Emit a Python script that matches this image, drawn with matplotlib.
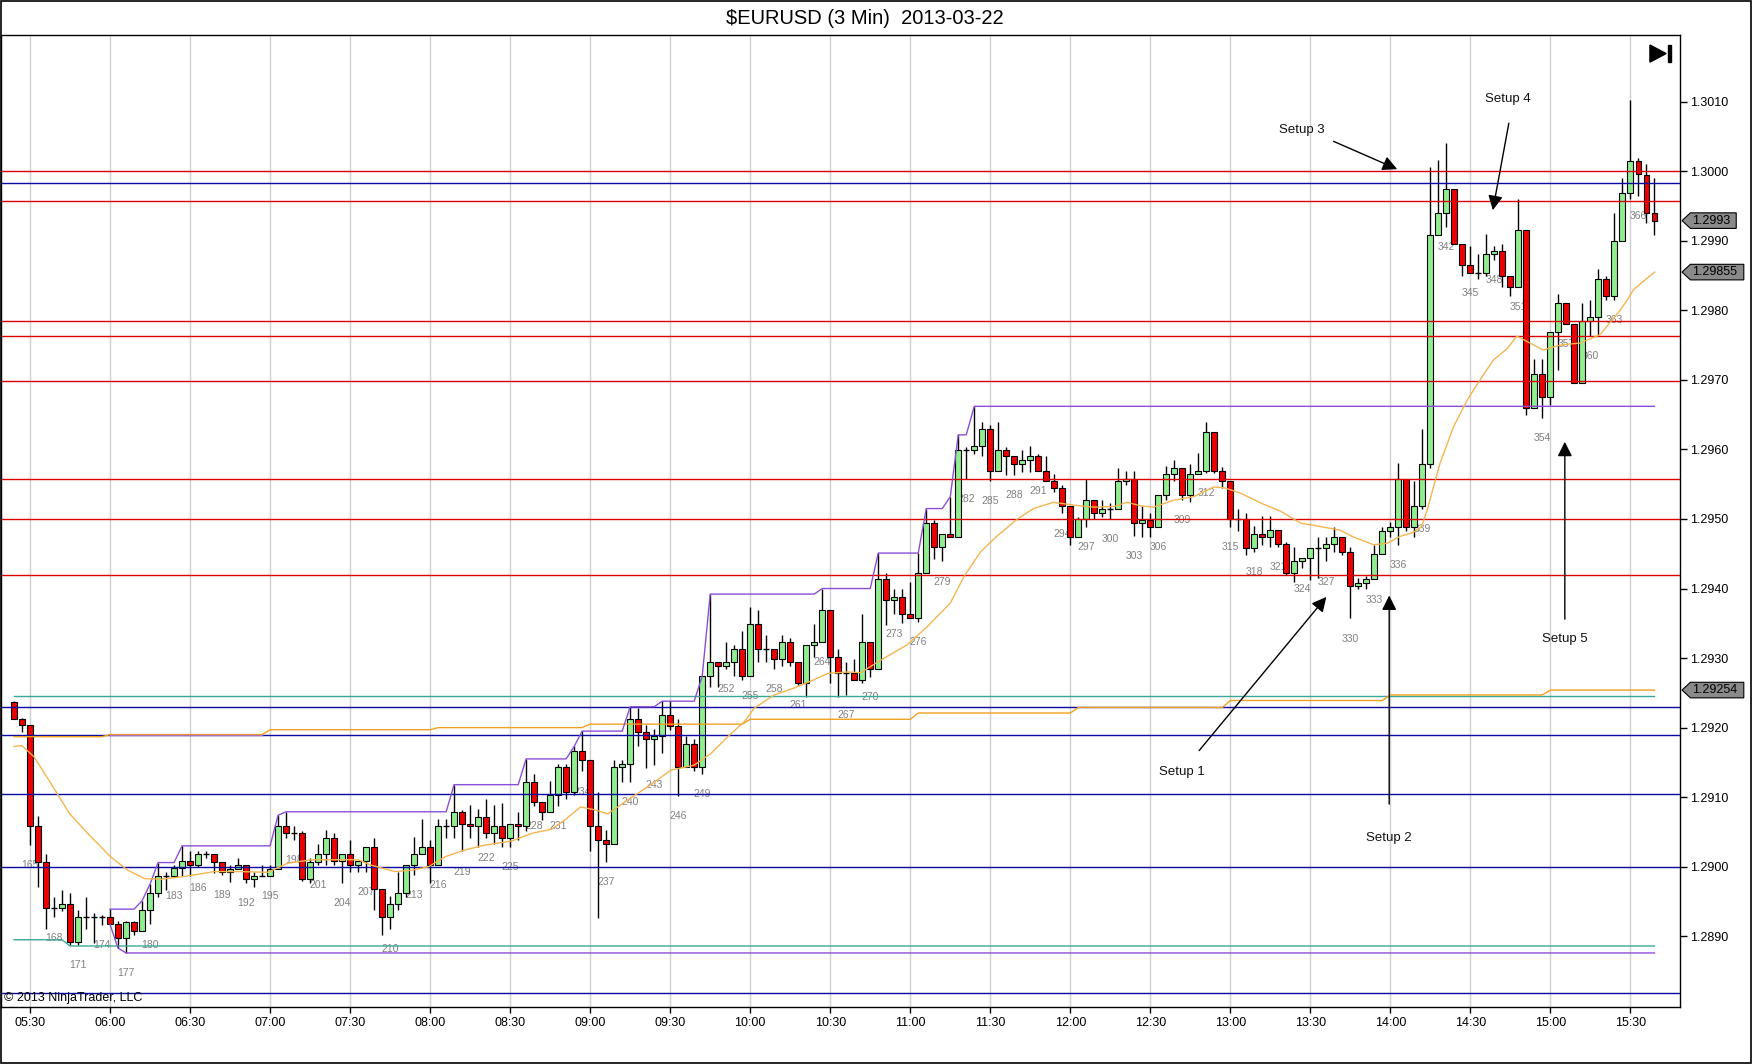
import numpy as np
import matplotlib
matplotlib.use("Agg")
import matplotlib.pyplot as plt
import matplotlib.transforms as mtransforms
from matplotlib.patches import Polygon, Rectangle

plt.rcParams['font.family'] = ['Liberation Sans', 'DejaVu Sans']

# 3 min bars, numbered as on the chart (163 .. 368)
first_bar = 163
opens = np.array([
    1.29237, 1.29213, 1.29204, 1.29058, 1.29007, 1.28941, 1.28941, 1.28947, 1.28892, 1.28927,  # 163
    1.28927, 1.28927, 1.28927, 1.28917, 1.28897, 1.28921, 1.28908, 1.28938, 1.28962, 1.28987,  # 173
    1.28987, 1.28998, 1.29008, 1.29002, 1.29018, 1.29018, 1.29007, 1.28992, 1.28997, 1.29002,  # 183
    1.28982, 1.28987, 1.28987, 1.28997, 1.29058, 1.29048, 1.29048, 1.28982, 1.29007, 1.29018,  # 193
    1.29042, 1.29008, 1.29018, 1.29002, 1.29008, 1.29028, 1.28968, 1.28927, 1.28947, 1.28962,  # 203
    1.29002, 1.29018, 1.29028, 1.29002, 1.29058, 1.29058, 1.29078, 1.29062, 1.29059, 1.29072,  # 213
    1.29048, 1.29059, 1.29042, 1.29062, 1.29059, 1.29122, 1.29093, 1.29078, 1.29103, 1.29143,  # 223
    1.29107, 1.29167, 1.29153, 1.29059, 1.29038, 1.29032, 1.29143, 1.29147, 1.29213, 1.29193,  # 233
    1.29183, 1.29188, 1.29218, 1.29203, 1.29143, 1.29177, 1.29143, 1.29274, 1.29294, 1.29289,  # 243
    1.29294, 1.29313, 1.29274, 1.29349, 1.29313, 1.29313, 1.29299, 1.29323, 1.29294, 1.29264,  # 253
    1.29319, 1.29323, 1.29369, 1.29302, 1.29278, 1.29278, 1.29269, 1.29323, 1.29284, 1.29413,  # 263
    1.29383, 1.29388, 1.29363, 1.29358, 1.29423, 1.29494, 1.29460, 1.29479, 1.29474, 1.29599,  # 273
    1.29599, 1.29605, 1.29629, 1.29569, 1.29599, 1.29590, 1.29579, 1.29585, 1.29590, 1.29569,  # 283
    1.29555, 1.29544, 1.29518, 1.29474, 1.29500, 1.29528, 1.29508, 1.29514, 1.29514, 1.29555,  # 293
    1.29558, 1.29494, 1.29499, 1.29489, 1.29534, 1.29565, 1.29574, 1.29534, 1.29565, 1.29569,  # 303
    1.29625, 1.29569, 1.29555, 1.29500, 1.29500, 1.29459, 1.29479, 1.29474, 1.29484, 1.29464,  # 313
    1.29423, 1.29439, 1.29444, 1.29459, 1.29459, 1.29464, 1.29474, 1.29453, 1.29403, 1.29408,  # 323
    1.29413, 1.29449, 1.29483, 1.29489, 1.29558, 1.29489, 1.29518, 1.29579, 1.29909, 1.29940,  # 333
    1.29975, 1.29895, 1.29865, 1.29854, 1.29854, 1.29881, 1.29885, 1.29850, 1.29834, 1.29915,  # 343
    1.29659, 1.29709, 1.29675, 1.29769, 1.29810, 1.29780, 1.29695, 1.29784, 1.29790, 1.29845,  # 353
    1.29820, 1.29900, 1.29969, 1.30015, 1.29995, 1.29940])                                    # 363
highs = np.array([
    1.29239, 1.29214, 1.29204, 1.29073, 1.29018, 1.28957, 1.28967, 1.28962, 1.28938, 1.28957,
    1.28933, 1.28931, 1.28939, 1.28922, 1.28922, 1.28922, 1.28951, 1.28975, 1.29006, 1.28993,
    1.29003, 1.29030, 1.29022, 1.29022, 1.29023, 1.29019, 1.29007, 1.29003, 1.29012, 1.29002,
    1.28993, 1.29002, 1.29003, 1.29074, 1.29079, 1.29058, 1.29052, 1.29012, 1.29033, 1.29053,
    1.29049, 1.29018, 1.29038, 1.29008, 1.29028, 1.29042, 1.28968, 1.28958, 1.28992, 1.29002,
    1.29043, 1.29069, 1.29038, 1.29069, 1.29069, 1.29118, 1.29082, 1.29089, 1.29083, 1.29097,
    1.29089, 1.29092, 1.29062, 1.29078, 1.29155, 1.29133, 1.29093, 1.29123, 1.29148, 1.29148,
    1.29173, 1.29195, 1.29153, 1.29107, 1.29053, 1.29153, 1.29153, 1.29230, 1.29228, 1.29204,
    1.29198, 1.29238, 1.29238, 1.29213, 1.29188, 1.29183, 1.29274, 1.29392, 1.29294, 1.29323,
    1.29319, 1.29339, 1.29374, 1.29369, 1.29333, 1.29313, 1.29333, 1.29329, 1.29294, 1.29319,
    1.29349, 1.29400, 1.29369, 1.29313, 1.29294, 1.29299, 1.29363, 1.29323, 1.29451, 1.29423,
    1.29399, 1.29399, 1.29410, 1.29451, 1.29515, 1.29499, 1.29479, 1.29532, 1.29621, 1.29604,
    1.29662, 1.29639, 1.29635, 1.29639, 1.29604, 1.29590, 1.29599, 1.29605, 1.29594, 1.29590,
    1.29564, 1.29549, 1.29518, 1.29503, 1.29558, 1.29528, 1.29528, 1.29523, 1.29574, 1.29569,
    1.29569, 1.29519, 1.29508, 1.29534, 1.29576, 1.29585, 1.29574, 1.29579, 1.29595, 1.29640,
    1.29625, 1.29575, 1.29555, 1.29515, 1.29508, 1.29490, 1.29504, 1.29504, 1.29484, 1.29467,
    1.29460, 1.29444, 1.29459, 1.29474, 1.29474, 1.29489, 1.29474, 1.29460, 1.29415, 1.29418,
    1.29463, 1.29489, 1.29495, 1.29580, 1.29558, 1.29555, 1.29629, 1.30006, 1.30016, 1.30041,
    1.29975, 1.29895, 1.29892, 1.29881, 1.29910, 1.29892, 1.29895, 1.29850, 1.29960, 1.29915,
    1.29730, 1.29730, 1.29769, 1.29824, 1.29810, 1.29780, 1.29810, 1.29815, 1.29860, 1.29850,
    1.29940, 1.29990, 1.30102, 1.30019, 1.30010, 1.29990])
lows = np.array([
    1.29213, 1.29193, 1.29031, 1.28971, 1.28911, 1.28927, 1.28937, 1.28887, 1.28887, 1.28911,
    1.28890, 1.28916, 1.28917, 1.28883, 1.28876, 1.28902, 1.28908, 1.28917, 1.28957, 1.28967,
    1.28987, 1.28987, 1.28987, 1.28999, 1.29012, 1.28991, 1.28988, 1.28978, 1.28997, 1.28977,
    1.28971, 1.28987, 1.28987, 1.28997, 1.29042, 1.29038, 1.28979, 1.28977, 1.29003, 1.29003,
    1.29002, 1.28977, 1.28992, 1.28992, 1.28992, 1.28938, 1.28902, 1.28911, 1.28938, 1.28957,
    1.28988, 1.29018, 1.28976, 1.29002, 1.29042, 1.29042, 1.29022, 1.29042, 1.29029, 1.29042,
    1.29033, 1.29029, 1.29028, 1.29038, 1.29052, 1.29088, 1.29067, 1.29078, 1.29088, 1.29097,
    1.29103, 1.29137, 1.29022, 1.28926, 1.29007, 1.29032, 1.29122, 1.29122, 1.29173, 1.29142,
    1.29146, 1.29163, 1.29197, 1.29102, 1.29143, 1.29137, 1.29133, 1.29259, 1.29259, 1.29284,
    1.29274, 1.29269, 1.29274, 1.29294, 1.29294, 1.29284, 1.29288, 1.29288, 1.29262, 1.29244,
    1.29302, 1.29323, 1.29264, 1.29244, 1.29247, 1.29268, 1.29264, 1.29273, 1.29284, 1.29348,
    1.29363, 1.29350, 1.29358, 1.29352, 1.29423, 1.29443, 1.29439, 1.29474, 1.29474, 1.29557,
    1.29594, 1.29590, 1.29555, 1.29569, 1.29563, 1.29563, 1.29568, 1.29568, 1.29569, 1.29555,
    1.29539, 1.29508, 1.29463, 1.29474, 1.29489, 1.29500, 1.29503, 1.29500, 1.29514, 1.29549,
    1.29476, 1.29474, 1.29474, 1.29489, 1.29527, 1.29554, 1.29527, 1.29524, 1.29565, 1.29566,
    1.29566, 1.29544, 1.29489, 1.29483, 1.29448, 1.29453, 1.29463, 1.29460, 1.29460, 1.29419,
    1.29410, 1.29429, 1.29412, 1.29415, 1.29439, 1.29453, 1.29448, 1.29357, 1.29399, 1.29399,
    1.29413, 1.29449, 1.29474, 1.29463, 1.29483, 1.29474, 1.29514, 1.29574, 1.29909, 1.29920,
    1.29895, 1.29850, 1.29854, 1.29845, 1.29850, 1.29872, 1.29834, 1.29820, 1.29834, 1.29649,
    1.29659, 1.29645, 1.29664, 1.29714, 1.29780, 1.29695, 1.29695, 1.29763, 1.29763, 1.29815,
    1.29815, 1.29900, 1.29960, 1.29965, 1.29925, 1.29908])
closes = np.array([
    1.29213, 1.29204, 1.29058, 1.29007, 1.28941, 1.28941, 1.28947, 1.28892, 1.28927, 1.28927,
    1.28927, 1.28927, 1.28917, 1.28897, 1.28921, 1.28908, 1.28938, 1.28962, 1.28987, 1.28987,
    1.28998, 1.29008, 1.29002, 1.29018, 1.29018, 1.29007, 1.28992, 1.28997, 1.29002, 1.28982,
    1.28987, 1.28987, 1.28997, 1.29058, 1.29048, 1.29048, 1.28982, 1.29007, 1.29018, 1.29042,
    1.29008, 1.29018, 1.29002, 1.29008, 1.29028, 1.28968, 1.28927, 1.28947, 1.28962, 1.29002,
    1.29018, 1.29028, 1.29002, 1.29058, 1.29058, 1.29078, 1.29062, 1.29059, 1.29072, 1.29048,
    1.29059, 1.29042, 1.29062, 1.29059, 1.29122, 1.29093, 1.29078, 1.29103, 1.29143, 1.29107,
    1.29167, 1.29153, 1.29059, 1.29038, 1.29032, 1.29143, 1.29147, 1.29213, 1.29193, 1.29183,
    1.29188, 1.29218, 1.29203, 1.29143, 1.29177, 1.29143, 1.29274, 1.29294, 1.29289, 1.29294,
    1.29313, 1.29274, 1.29349, 1.29313, 1.29313, 1.29299, 1.29323, 1.29294, 1.29264, 1.29319,
    1.29323, 1.29369, 1.29302, 1.29278, 1.29278, 1.29268, 1.29323, 1.29284, 1.29413, 1.29383,
    1.29388, 1.29363, 1.29358, 1.29423, 1.29494, 1.29460, 1.29479, 1.29474, 1.29599, 1.29599,
    1.29605, 1.29629, 1.29569, 1.29599, 1.29590, 1.29579, 1.29585, 1.29590, 1.29569, 1.29555,
    1.29544, 1.29518, 1.29474, 1.29500, 1.29528, 1.29508, 1.29514, 1.29514, 1.29555, 1.29558,
    1.29494, 1.29499, 1.29489, 1.29534, 1.29565, 1.29574, 1.29534, 1.29565, 1.29569, 1.29625,
    1.29569, 1.29555, 1.29500, 1.29500, 1.29459, 1.29479, 1.29474, 1.29484, 1.29464, 1.29423,
    1.29439, 1.29444, 1.29459, 1.29459, 1.29464, 1.29474, 1.29453, 1.29403, 1.29408, 1.29413,
    1.29449, 1.29483, 1.29489, 1.29558, 1.29489, 1.29518, 1.29579, 1.29909, 1.29940, 1.29975,
    1.29895, 1.29865, 1.29854, 1.29854, 1.29881, 1.29885, 1.29850, 1.29834, 1.29915, 1.29659,
    1.29709, 1.29675, 1.29769, 1.29810, 1.29780, 1.29695, 1.29784, 1.29790, 1.29845, 1.29820,
    1.29900, 1.29969, 1.30015, 1.29996, 1.29940, 1.29929])
bars = np.arange(first_bar, first_bar + len(opens))

# moving average (bar, value)
ma_bars = [163, 164, 165.5, 167.6, 169.9, 172.2, 175.1, 177.2, 179.3, 181.4, 184.3, 188, 191.3,
           194.7, 197.2, 200.2, 202.7, 206, 207.7, 210.6, 212.7, 214.8, 216.8, 219.3, 221.8,
           225.2, 227.7, 230.2, 231.8, 233.8, 235.5, 237.2, 239.7, 242.2, 245.1, 248, 250.1,
           252.2, 254.3, 255.5, 258, 260.5, 263, 264.7, 267.2, 268.8, 271.3, 274.6, 277.1, 280,
           281.7, 283.8, 285.8, 288.3, 290.4, 292.9, 295.4, 297.9, 300.5, 302.1, 303.8, 305.4,
           307.9, 310.4, 312.9, 314.2, 316.3, 318.8, 321.3, 323.8, 326.3, 328.7, 330.4, 332.9,
           334.6, 336.2, 337.9, 338.9, 339.6, 341.2, 342.9, 344.6, 346.2, 347.9, 349.6, 350.8,
           352.1, 354.1, 356.2, 358.7, 361.2, 363.7, 364.6, 365.4, 368]
ma_vals = [1.29173, 1.29174, 1.29158, 1.29120, 1.29077, 1.29048, 1.29014, 1.28995, 1.28983, 1.28982,
           1.28986, 1.28993, 1.28993, 1.28992, 1.29005, 1.29010, 1.29010, 1.29010, 1.29002, 1.28993,
           1.28995, 1.29000, 1.29014, 1.29024, 1.29031, 1.29037, 1.29048, 1.29054, 1.29067, 1.29086,
           1.29082, 1.29076, 1.29096, 1.29115, 1.29139, 1.29146, 1.29163, 1.29187, 1.29209, 1.29228,
           1.29247, 1.29257, 1.29269, 1.29278, 1.29280, 1.29279, 1.29297, 1.29319, 1.29345, 1.29379,
           1.29417, 1.29453, 1.29475, 1.29499, 1.29515, 1.29524, 1.29520, 1.29517, 1.29518, 1.29524,
           1.29519, 1.29517, 1.29527, 1.29532, 1.29546, 1.29545, 1.29537, 1.29523, 1.29511, 1.29494,
           1.29489, 1.29484, 1.29474, 1.29463, 1.29465, 1.29475, 1.29481, 1.29489, 1.29513, 1.29580,
           1.29633, 1.29671, 1.29700, 1.29729, 1.29745, 1.29763, 1.29755, 1.29743, 1.29750, 1.29753,
           1.29765, 1.29800, 1.29815, 1.29830, 1.29855]

# hourly stepped level (orange) and other levels
step_start = [163, 175, 195, 216, 235, 255, 276, 296, 315, 335, 355]
step_vals = [1.29187, 1.29190, 1.29197, 1.29200, 1.29205, 1.29212, 1.29221, 1.29229, 1.29239, 1.29247, 1.29254]
teal_high = 1.29245
teal_low_start = [163, 170]
teal_low_vals = [1.28895, 1.28886]
red_levels = [1.30000, 1.29957, 1.29785, 1.29763, 1.29698, 1.29557, 1.29500, 1.29419]
blue_levels = [1.29983, 1.29229, 1.29189, 1.29104, 1.29000, 1.28818]
range_start, range_end = 175, 339

time_ticks = [165, 175, 185, 195, 205, 215, 225, 235, 245, 255, 265,
              275, 285, 295, 305, 315, 325, 335, 345, 355, 365]
time_labels = ["05:30", "06:00", "06:30", "07:00", "07:30", "08:00", "08:30", "09:00", "09:30",
               "10:00", "10:30", "11:00", "11:30", "12:00", "12:30", "13:00", "13:30", "14:00",
               "14:30", "15:00", "15:30"]

setup_names = ["Setup 1", "Setup 2", "Setup 3", "Setup 4", "Setup 5"]
setup_text = [(308.9, 1.29136), (334.85, 1.29041), (323.9, 1.30059), (349.7, 1.30104), (356.8, 1.29327)]
setup_tail = [(311.1, 1.29167), (334.85, 1.29090), (327.9, 1.30043), (349.8, 1.30069), (356.8, 1.29356)]
setup_head = [(327.0, 1.29388), (334.85, 1.29390), (335.85, 1.30003), (347.8, 1.29944), (356.8, 1.29611)]

RED = '#dd0000'
BLUE = '#0a0aa0'
TEAL = '#3aa898'
PURPLE = '#8a4fd6'
ORANGE = '#f0a020'
MA_COL = '#f4b550'

fig = plt.figure(figsize=(17.52, 10.64), dpi=100)
ax = fig.add_axes([0.0006, 0.05357, 0.9583, 0.91353])
ax.set_xlim(161.38, 371.19)
ax.set_ylim(1.287983, 1.301959)

# vertical grid
ax.set_xticks(time_ticks)
ax.set_xticklabels(time_labels, fontsize=9)
ax.grid(axis='x', color='#cfcfcf', lw=1, zorder=0)
ax.tick_params(axis='x', length=4, width=1, pad=3)

ax.yaxis.tick_right()
yt = np.round(np.arange(1.2890, 1.30101, 0.001), 4)
ax.set_yticks(yt)
ax.set_yticklabels(['%.4f' % v for v in yt], fontsize=9)
ax.tick_params(axis='y', length=5, width=1, pad=2)
for s in ax.spines.values():
    s.set_color('black')
    s.set_linewidth(1)

# bar numbers (every third bar)
for b, lo in zip(bars, lows):
    if b % 3 == 0:
        ax.annotate(str(b), (b, lo), xytext=(0, -14.5), textcoords='offset points',
                    ha='center', va='center', fontsize=7.5, color='#808080', zorder=2)

# candles
up = closes > opens
down = closes < opens
flat = closes == opens
ax.vlines(bars, lows, highs, color='black', lw=1, zorder=3)
ax.bar(bars[up], (closes - opens)[up], bottom=opens[up], width=0.74,
       color='#90ee90', edgecolor='black', lw=0.8, zorder=4)
ax.bar(bars[down], (opens - closes)[down], bottom=closes[down], width=0.74,
       color='#ee0000', edgecolor='black', lw=0.8, zorder=4)
ax.hlines(opens[flat], bars[flat] - 0.37, bars[flat] + 0.37, color='black', lw=1, zorder=4)

# level lines
for v in red_levels:
    ax.axhline(v, color=RED, lw=1.0, zorder=5)
for v in blue_levels:
    ax.axhline(v, color=BLUE, lw=1.0, zorder=5)

ax.plot([bars[0], bars[-1]], [teal_high, teal_high], color=TEAL, lw=1.0, zorder=5)
teal_low = np.repeat(teal_low_vals, np.diff(teal_low_start + [bars[-1] + 1]))
ax.plot(bars, teal_low, color=TEAL, lw=1.0, zorder=5)

step_line = np.repeat(step_vals, np.diff(step_start + [bars[-1] + 1]))
ax.plot(bars, step_line, color=ORANGE, lw=1.0, zorder=5)
# the second step sits on a blue level and shows as a mauve line
seg = (bars >= step_start[1]) & (bars < step_start[2])
ax.plot(bars[seg], step_line[seg], color='#b070b0', lw=1.0, zorder=5.5)

# session range (running high / low)
i0 = int(np.where(bars == range_start)[0][0])
i1 = int(np.where(bars == range_end)[0][0]) + 1
run_hi = np.maximum.accumulate(highs[i0:i1])
run_lo = np.minimum.accumulate(lows[i0:i1])
run_hi = np.concatenate([run_hi, np.full(len(bars) - i1, run_hi[-1])])
run_lo = np.concatenate([run_lo, np.full(len(bars) - i1, run_lo[-1])])
ax.plot(bars[i0:], run_hi, color=PURPLE, lw=1.0, zorder=5)
ax.plot(bars[i0:], run_lo, color=PURPLE, lw=1.0, zorder=5)

ax.plot(ma_bars, ma_vals, color=MA_COL, lw=1.0, zorder=6)

# setups
for name, t, tail, head in zip(setup_names, setup_text, setup_tail, setup_head):
    ax.annotate('', xy=head, xytext=tail,
                arrowprops=dict(arrowstyle='-|>', color='black', lw=1.0,
                                mutation_scale=22, shrinkA=0, shrinkB=0), zorder=7)
    ax.text(t[0], t[1], name, ha='center', va='center', fontsize=9.5, color='#111111', zorder=7)

# price markers on the right axis
blend = mtransforms.blended_transform_factory(ax.transAxes, ax.transData)
tags = [(closes[-1], '1.2993', 1.0335), (ma_vals[-1], '1.29855', 1.0380), (step_vals[-1], '1.29254', 1.0380)]
for v, txt, xe in tags:
    h = 0.000112
    pts = [(1.0012, v), (1.0062, v + h), (xe, v + h), (xe, v - h), (1.0062, v - h)]
    ax.add_patch(Polygon(pts, closed=True, transform=blend, facecolor='#8a8a8a',
                         edgecolor='black', lw=0.8, clip_on=False, zorder=10))
    ax.text(1.0072, v, txt, transform=blend, ha='left', va='center', fontsize=9,
            clip_on=False, zorder=11)

# "scroll to end" glyph
ax.add_patch(Polygon([(0.9821, 0.9897), (0.9821, 0.9721), (0.9917, 0.9809)],
                     closed=True, transform=ax.transAxes, color='black', zorder=8))
ax.add_patch(Rectangle((0.9929, 0.9721), 0.0020, 0.0176, transform=ax.transAxes,
                       color='black', zorder=8))

ax.text(0.0018, 0.003, '\u00a9 2013 NinjaTrader, LLC', transform=ax.transAxes,
        ha='left', va='bottom', fontsize=9, color='black', zorder=8)

fig.text(865 / 1752, 1 - 18.5 / 1064, '$EURUSD (3 Min)  2013-03-22', ha='center', va='center',
         fontsize=14.5, parse_math=False)
fig.add_artist(Rectangle((0.0004, 0.0006), 0.9990, 0.9988, transform=fig.transFigure,
                         fill=False, ec='black', lw=1.2))

fig.savefig('out.png', dpi=100)
